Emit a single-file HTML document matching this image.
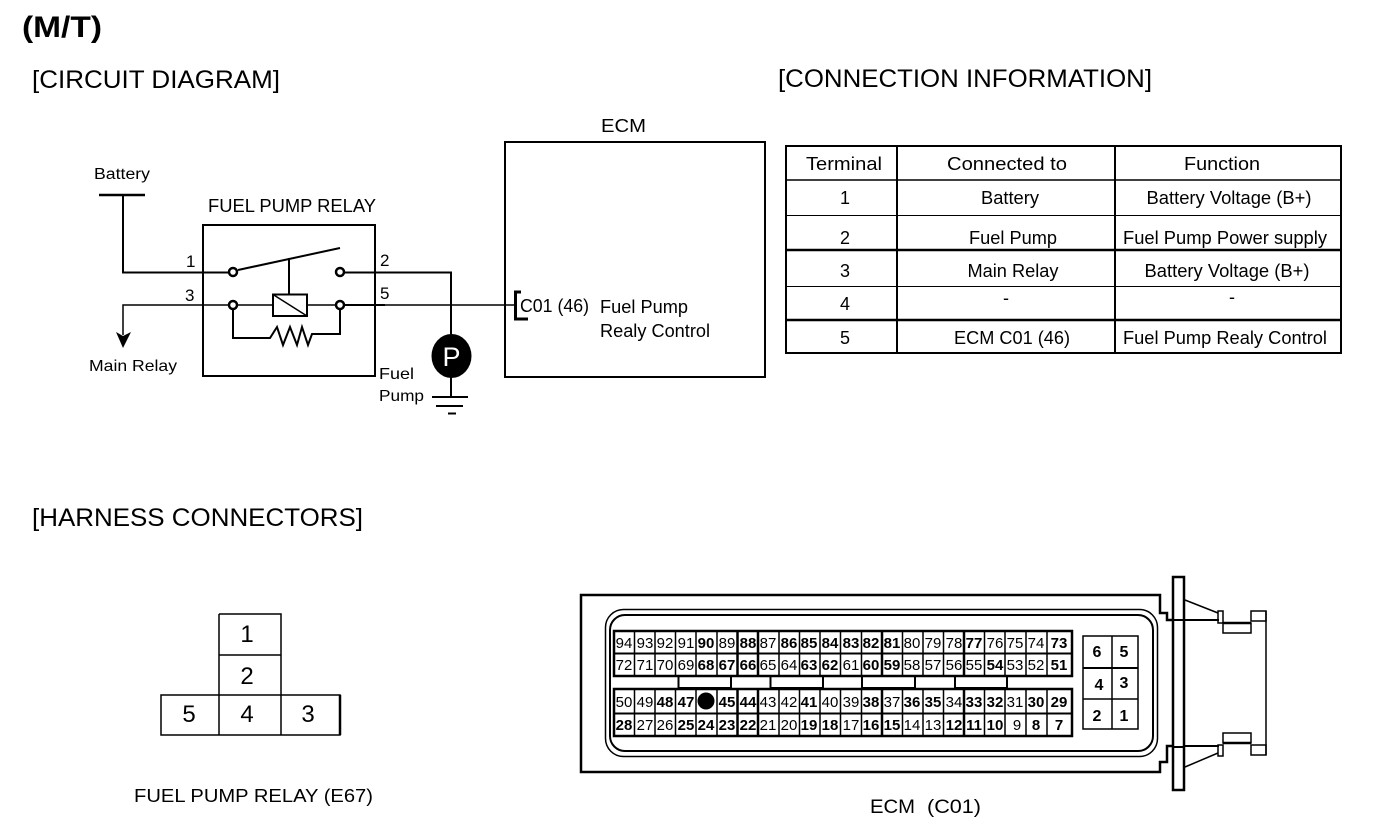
<!DOCTYPE html>
<html>
<head>
<meta charset="utf-8">
<style>
html,body{margin:0;padding:0;background:#fff;}
svg{display:block;}
text{font-family:"Liberation Sans",sans-serif;fill:#000;}
.c{text-anchor:middle;}
.n text{font-size:15px;text-anchor:middle;}
.n .b{font-weight:bold;}
.t text{font-size:18px;text-anchor:middle;}
</style>
</head>
<body>
<svg width="1376" height="824" viewBox="0 0 1376 824" xmlns="http://www.w3.org/2000/svg">
<rect width="1376" height="824" fill="#fff"/>

<!-- Titles -->
<text x="22" y="37" font-size="30" font-weight="bold" textLength="80" lengthAdjust="spacingAndGlyphs">(M/T)</text>
<text x="32" y="88" font-size="25" textLength="248" lengthAdjust="spacingAndGlyphs">[CIRCUIT DIAGRAM]</text>
<text x="778" y="87" font-size="25" textLength="374" lengthAdjust="spacingAndGlyphs">[CONNECTION INFORMATION]</text>
<text x="32" y="526" font-size="25" textLength="331" lengthAdjust="spacingAndGlyphs">[HARNESS CONNECTORS]</text>

<!-- Circuit -->
<g fill="none" stroke="#000" stroke-width="2">
  <path d="M99 195H145" stroke-width="2.500"/>
  <path d="M123 195V272.500H229"/>
  <path d="M238 270L340 248" stroke-width="2"/>
  <path d="M289 258V294" stroke-width="2"/>
  <rect x="203" y="225" width="172" height="151"/>
  <rect x="273" y="294.500" width="34" height="21.500"/>
  <path d="M273 294.500L307 316" stroke-width="1.500"/>
  <path d="M345 272.500H451V336"/>
  <path d="M237 305H273M307 305H336" stroke-width="1.500"/>
  <path d="M229 305H123V335" stroke-width="1.500"/>
  <path d="M344 305H385" stroke-width="2"/>
  <path d="M385 305H515" stroke-width="1.500"/>
  <path d="M233 309V338H270L277 327L283 345L290 327L297 345L302 327L308 345L312 334H340V309"/>
  <circle cx="233" cy="272" r="4" stroke-width="2.500"/>
  <circle cx="340" cy="272" r="4" stroke-width="2.500"/>
  <circle cx="233" cy="305" r="4" stroke-width="2.500"/>
  <circle cx="340" cy="305" r="4" stroke-width="2.500"/>
  <path d="M451 376V397M432 397H468" stroke-width="2"/>
  <path d="M436 406H463" stroke-width="2"/>
  <path d="M448 413.500H456" stroke-width="2"/>
  <rect x="505" y="142" width="260" height="235"/>
  <path d="M521 292H515.500V319H528" stroke-width="3"/>
</g>
<path d="M116 332L123 336L131 332L123 348Z" fill="#000"/>
<ellipse cx="451.500" cy="356" rx="20" ry="22" fill="#000"/>
<text x="451.500" y="366" font-size="27" class="c" style="fill:#fff">P</text>

<text x="94" y="179" font-size="15.500" textLength="56" lengthAdjust="spacingAndGlyphs">Battery</text>
<text x="208" y="212" font-size="18" textLength="168" lengthAdjust="spacingAndGlyphs">FUEL PUMP RELAY</text>
<text x="186" y="267" font-size="17">1</text>
<text x="185" y="301" font-size="17">3</text>
<text x="380" y="266" font-size="17">2</text>
<text x="380" y="299" font-size="17">5</text>
<text x="89" y="371" font-size="16" textLength="88" lengthAdjust="spacingAndGlyphs">Main Relay</text>
<text x="379" y="379" font-size="16" textLength="35" lengthAdjust="spacingAndGlyphs">Fuel</text>
<text x="379" y="401" font-size="16" textLength="45" lengthAdjust="spacingAndGlyphs">Pump</text>
<text x="601" y="132" font-size="18.500" textLength="45" lengthAdjust="spacingAndGlyphs">ECM</text>
<text x="520" y="312" font-size="18" textLength="69" lengthAdjust="spacingAndGlyphs">C01 (46)</text>
<text x="600" y="313" font-size="18" textLength="88" lengthAdjust="spacingAndGlyphs">Fuel Pump</text>
<text x="600" y="337" font-size="18" textLength="110" lengthAdjust="spacingAndGlyphs">Realy Control</text>

<!-- Table -->
<g fill="none" stroke="#000">
  <rect x="786" y="146" width="555" height="207" stroke-width="2"/>
  <path d="M897 146V353M1115 146V353" stroke-width="2"/>
  <path d="M786 180H1341" stroke-width="1.500"/>
  <path d="M786 215.500H1341" stroke-width="1"/>
  <path d="M786 250H1341" stroke-width="2.500"/>
  <path d="M786 286.500H1341" stroke-width="1"/>
  <path d="M786 320H1341" stroke-width="2.500"/>
</g>
<g class="t">
  <text x="844" y="170" textLength="76" lengthAdjust="spacingAndGlyphs">Terminal</text>
  <text x="1007" y="170" textLength="120" lengthAdjust="spacingAndGlyphs">Connected to</text>
  <text x="1222" y="170" textLength="76" lengthAdjust="spacingAndGlyphs">Function</text>
  <text x="845" y="204">1</text>
  <text x="1010" y="204" textLength="58" lengthAdjust="spacingAndGlyphs">Battery</text>
  <text x="1229" y="204" textLength="165" lengthAdjust="spacingAndGlyphs">Battery Voltage (B+)</text>
  <text x="845" y="244">2</text>
  <text x="1013" y="244" textLength="88" lengthAdjust="spacingAndGlyphs">Fuel Pump</text>
  <text x="1225" y="244" textLength="204" lengthAdjust="spacingAndGlyphs">Fuel Pump Power supply</text>
  <text x="845" y="277">3</text>
  <text x="1013" y="277" textLength="91" lengthAdjust="spacingAndGlyphs">Main Relay</text>
  <text x="1227" y="277" textLength="165" lengthAdjust="spacingAndGlyphs">Battery Voltage (B+)</text>
  <text x="845" y="310">4</text>
  <text x="1006" y="304">-</text>
  <text x="1232" y="303">-</text>
  <text x="845" y="344">5</text>
  <text x="1012" y="344" textLength="116" lengthAdjust="spacingAndGlyphs">ECM C01 (46)</text>
  <text x="1225" y="344" textLength="204" lengthAdjust="spacingAndGlyphs">Fuel Pump Realy Control</text>
</g>

<!-- Relay connector -->
<g fill="none" stroke="#000" stroke-width="1.500">
  <path d="M219 614H281V695M219 614V695M219 655H281"/>
  <rect x="161" y="695" width="179" height="40"/>
  <path d="M219 695V735M281 695V735"/>
  <path d="M340 695V735" stroke-width="2.500"/>
</g>
<g font-size="24">
  <text x="247" y="642" class="c">1</text>
  <text x="247" y="684" class="c">2</text>
  <text x="189" y="722" class="c">5</text>
  <text x="247" y="722" class="c">4</text>
  <text x="308" y="722" class="c">3</text>
</g>
<text x="134" y="802" font-size="18" textLength="239" lengthAdjust="spacingAndGlyphs">FUEL PUMP RELAY (E67)</text>
<text x="870" y="813" font-size="19" textLength="45" lengthAdjust="spacingAndGlyphs">ECM</text>
<text x="927" y="813" font-size="19" textLength="54" lengthAdjust="spacingAndGlyphs">(C01)</text>

<!-- ECM connector -->
<g fill="none" stroke="#000" stroke-width="2">
  <path d="M1173 620H1167V613H1160V595H581V772H1160V762H1167V746H1173" stroke-width="2.500"/>
  <rect x="605.500" y="609.500" width="552" height="147" rx="18" stroke-width="1.500"/>
  <rect x="610" y="615" width="543" height="136" rx="15" stroke-width="2"/>
  <rect x="1173" y="577" width="11" height="213" stroke-width="2.500"/>
  <path d="M1173 620H1184M1173 747H1184" stroke-width="2"/>
  <path d="M1184 620H1219M1184 746H1219" stroke-width="2"/>
  <path d="M1185 600L1218 613M1185 767L1218 753" stroke-width="1.500"/>
  <rect x="1218" y="611" width="5" height="12" stroke-width="1.500"/>
  <rect x="1223" y="623" width="28" height="10" stroke-width="1.500"/>
  <path d="M1223 623H1251" stroke-width="2.500"/>
  <rect x="1251" y="611" width="15" height="10" stroke-width="1.500"/>
  <rect x="1218" y="745" width="5" height="11" stroke-width="1.500"/>
  <rect x="1223" y="733" width="28" height="10" stroke-width="1.500"/>
  <path d="M1223 743H1251" stroke-width="2.500"/>
  <rect x="1251" y="745" width="15" height="10" stroke-width="1.500"/>
  <path d="M1266 611V755" stroke-width="1.500"/>

  <!-- pin blocks -->
  <rect x="614" y="631" width="458" height="45" stroke-width="2.500"/>
  <rect x="614" y="689" width="458" height="47" stroke-width="2.500"/>
  <path d="M614 653.500H1072M614 713.500H1072" stroke-width="2"/>
  <path d="M634.500 631V676M655 631V676M675.500 631V676M696 631V676M717 631V676M737.500 631V676M758 631V676M779 631V676M799.500 631V676M820 631V676M840.500 631V676M861.500 631V676M882 631V676M902.500 631V676M923 631V676M943.500 631V676M964 631V676M984.500 631V676M1005 631V676M1026 631V676M1047 631V676" stroke-width="1.500"/>
  <path d="M634.500 689V736M655 689V736M675.500 689V736M696 689V736M717 689V736M737.500 689V736M758 689V736M779 689V736M799.500 689V736M820 689V736M840.500 689V736M861.500 689V736M882 689V736M902.500 689V736M923 689V736M943.500 689V736M964 689V736M984.500 689V736M1005 689V736M1026 689V736M1047 689V736" stroke-width="1.500"/>
  <path d="M737.500 631V676M758 631V676M882 631V676M964 631V676M737.500 689V736M758 689V736M882 689V736M964 689V736" stroke-width="2.500"/>

  <!-- keys -->
  <rect x="678.500" y="676" width="52.500" height="12" stroke-width="2"/>
  <rect x="770.500" y="676" width="52.500" height="12" stroke-width="2"/>
  <rect x="862" y="676" width="53" height="12" stroke-width="2"/>
  <rect x="955" y="676" width="52" height="12" stroke-width="2"/>

  <!-- small block -->
  <rect x="1083" y="636" width="55" height="93" stroke-width="1.500"/>
  <path d="M1112 636V729" stroke-width="1.500"/>
  <path d="M1083 668H1138" stroke-width="2"/>
  <path d="M1083 699H1138" stroke-width="1.500"/>
</g>
<g font-size="16" font-weight="bold">
  <text x="1097" y="657" class="c">6</text><text x="1124" y="657" class="c">5</text>
  <text x="1099" y="690" class="c">4</text><text x="1124" y="688" class="c">3</text>
  <text x="1097" y="721" class="c">2</text><text x="1124" y="721" class="c">1</text>
</g>
<g class="n">
  <text x="624" y="648">94</text><text x="645" y="648">93</text><text x="665" y="648">92</text><text x="686" y="648">91</text><text class="b" x="706" y="648">90</text><text x="727" y="648">89</text><text class="b" x="748" y="648">88</text><text x="768" y="648">87</text><text class="b" x="789" y="648">86</text><text class="b" x="809" y="648">85</text><text class="b" x="830" y="648">84</text><text class="b" x="851" y="648">83</text><text class="b" x="871" y="648">82</text><text class="b" x="892" y="648">81</text><text x="912" y="648">80</text><text x="933" y="648">79</text><text x="954" y="648">78</text><text class="b" x="974" y="648">77</text><text x="995" y="648">76</text><text x="1015" y="648">75</text><text x="1036" y="648">74</text><text class="b" x="1059" y="648">73</text>
  <text x="624" y="670">72</text><text x="645" y="670">71</text><text x="665" y="670">70</text><text x="686" y="670">69</text><text class="b" x="706" y="670">68</text><text class="b" x="727" y="670">67</text><text class="b" x="748" y="670">66</text><text x="768" y="670">65</text><text x="789" y="670">64</text><text class="b" x="809" y="670">63</text><text class="b" x="830" y="670">62</text><text x="851" y="670">61</text><text class="b" x="871" y="670">60</text><text class="b" x="892" y="670">59</text><text x="912" y="670">58</text><text x="933" y="670">57</text><text x="954" y="670">56</text><text x="974" y="670">55</text><text class="b" x="995" y="670">54</text><text x="1015" y="670">53</text><text x="1036" y="670">52</text><text class="b" x="1059" y="670">51</text>
  <text x="624" y="707">50</text><text x="645" y="707">49</text><text class="b" x="665" y="707">48</text><text class="b" x="686" y="707">47</text><text class="b" x="727" y="707">45</text><text class="b" x="748" y="707">44</text><text x="768" y="707">43</text><text x="789" y="707">42</text><text class="b" x="809" y="707">41</text><text x="830" y="707">40</text><text x="851" y="707">39</text><text class="b" x="871" y="707">38</text><text x="892" y="707">37</text><text class="b" x="912" y="707">36</text><text class="b" x="933" y="707">35</text><text x="954" y="707">34</text><text class="b" x="974" y="707">33</text><text class="b" x="995" y="707">32</text><text x="1015" y="707">31</text><text class="b" x="1036" y="707">30</text><text class="b" x="1059" y="707">29</text>
  <text class="b" x="624" y="730">28</text><text x="645" y="730">27</text><text x="665" y="730">26</text><text class="b" x="686" y="730">25</text><text class="b" x="706" y="730">24</text><text class="b" x="727" y="730">23</text><text class="b" x="748" y="730">22</text><text x="768" y="730">21</text><text x="789" y="730">20</text><text class="b" x="809" y="730">19</text><text class="b" x="830" y="730">18</text><text x="851" y="730">17</text><text class="b" x="871" y="730">16</text><text class="b" x="892" y="730">15</text><text x="912" y="730">14</text><text x="933" y="730">13</text><text class="b" x="954" y="730">12</text><text class="b" x="974" y="730">11</text><text class="b" x="995" y="730">10</text><text x="1017" y="730">9</text><text class="b" x="1036" y="730">8</text><text class="b" x="1059" y="730">7</text>
</g>
<circle cx="706" cy="701" r="8.500" fill="#000"/>
</svg>
</body>
</html>
